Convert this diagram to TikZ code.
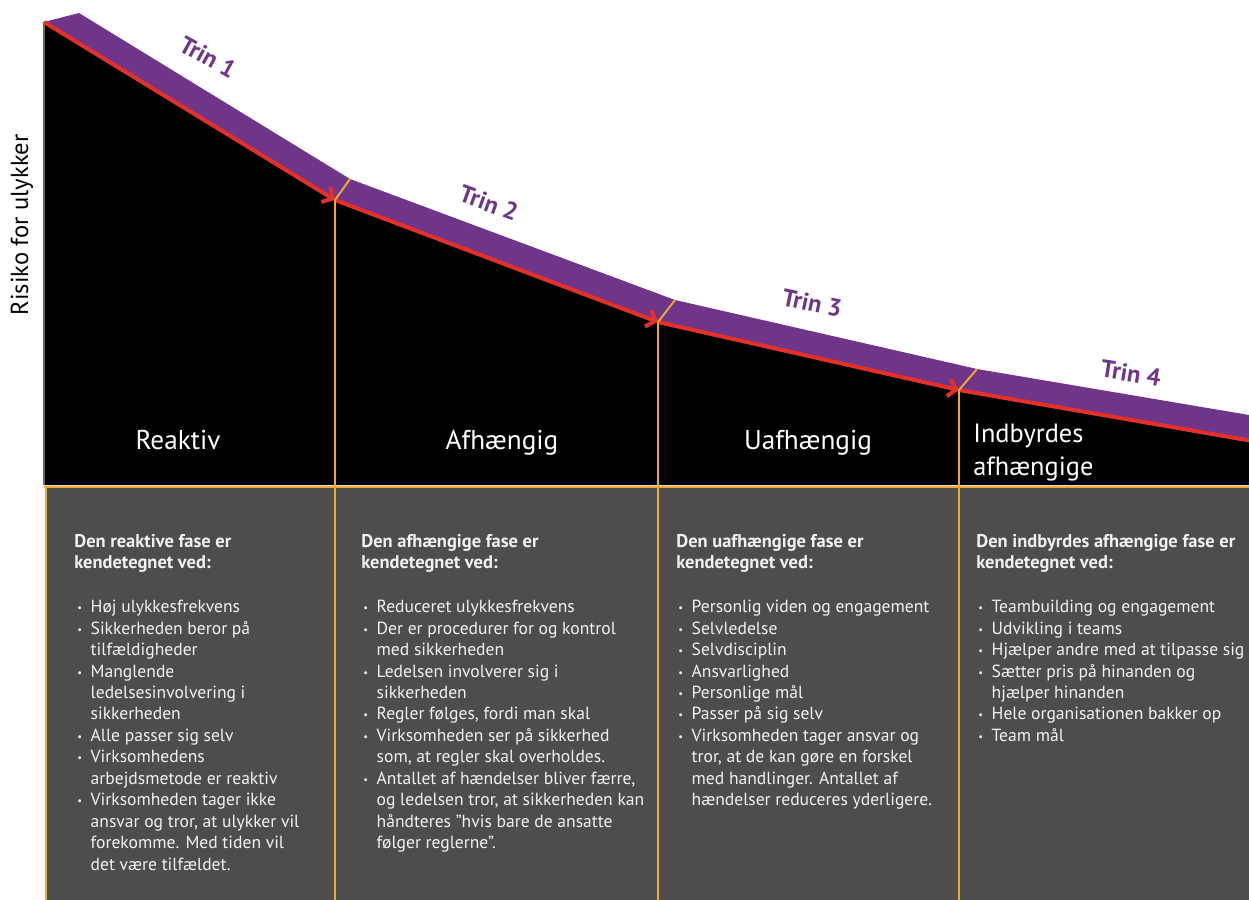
\documentclass[tikz,border=0pt]{standalone}
\usepackage{fontspec}
\setmainfont{PT Sans}
\usetikzlibrary{arrows.meta}

\definecolor{trinpurple}{HTML}{6E3589}
\definecolor{arrowred}{HTML}{E3302B}
\definecolor{edgeorange}{HTML}{EFA92E}
\definecolor{boxgrey}{HTML}{4D4D4D}
\definecolor{boxtext}{HTML}{F2F2F2}

\tikzset{
  phase/.style={text=white, inner sep=0pt, font=\fontsize{15.5}{19}\selectfont},
  trin/.style={text=trinpurple, inner sep=0pt, font=\bfseries\fontsize{14}{16}\selectfont},
  head/.style={anchor=north west, inner sep=0pt, align=left, text=boxtext, font=\bfseries\fontsize{10.5}{12}\selectfont},
  punkter/.style={anchor=north west, inner sep=0pt, align=left, text=boxtext, font=\fontsize{10}{12.2}\selectfont},
  divider/.style={edgeorange, line width=1.1pt},
  redline/.style={arrowred, line width=2.3pt, ->},
}
\newcommand{\pkt}{\makebox[7.6pt][l]{\raisebox{0.6pt}{\fontsize{6}{6}\selectfont\textbullet}}}
\newcommand{\ind}{\hspace*{7.6pt}}

\begin{document}
\begin{tikzpicture}[x=0.02cm, y=-0.02cm, >={Straight Barb[length=4.5pt,width=10pt]}]
    \useasboundingbox (0,0) rectangle (1249,900);
    % points on the red line and on the upper edge of the band
    \coordinate (p0) at (44,22);
    \coordinate (p1) at (335,200);
    \coordinate (p2) at (658,322);
    \coordinate (p3) at (959,390);
    \coordinate (p4) at (1249,440);
    \coordinate (pend) at (1264,443);
    \coordinate (q0) at (79,13);
    \coordinate (q1) at (350,179);
    \coordinate (q2) at (675,300);
    \coordinate (q3) at (977,369);
    \coordinate (q4) at (1249,415);

    \fill[black] (p0) -- (p1) -- (p2) -- (p3) -- (p4) -- (1249,485) -- (44,485) -- cycle;
    \draw[black!60, line width=0.6pt] (p0) -- (44,485);
    \fill[boxgrey] (45,487) rectangle (1249,900);
    \fill[trinpurple] (p0) -- (q0) -- (q1) -- (q2) -- (q3) -- (q4) -- (p4) -- (p3) -- (p2) -- (p1) -- cycle;

    \draw[redline] (p0) -- (p1);
    \draw[redline] (p1) -- (p2);
    \draw[redline] (p2) -- (p3);
    \draw[redline] (p3) -- (pend);

    \draw[divider] (q1) -- (p1) -- (335,900);
    \draw[divider] (q2) -- (p2) -- (658,900);
    \draw[divider] (q3) -- (p3) -- (959,900);
    \draw[divider] (44,487) -- (1249,487);
    \draw[divider] (46,487) -- (46,900);

    \node[trin, rotate=-29] (trin1) at (208,57) {Trin 1};
    \node[trin, rotate=-20] (trin2) at (489,203) {Trin 2};
    \node[trin, rotate=-12] (trin3) at (812,303) {Trin 3};
    \node[trin, rotate=-9] (trin4) at (1131,373) {Trin 4};

    \node[rotate=90, font=\fontsize{14}{16}\selectfont] (risiko) at (22,225) {Risiko for ulykker};

    \node[phase, anchor=base] (reaktiv) at (178,449) {Reaktiv};
    \node[phase, anchor=base] (afh) at (502,449) {Afhængig};
    \node[phase, anchor=base] (uafh) at (808,449) {Uafhængig};
    \node[phase, anchor=north west, align=left, font=\fontsize{15}{18.5}\selectfont] (indb) at (973,424) {Indbyrdes\\afhængige};

    % reaktiv
    \node[head] (head1) at (74,534) {Den reaktive fase er\\kendetegnet ved:};
    \node[punkter] (list1) at (77,600) {\pkt Høj ulykkesfrekvens\\
        \pkt Sikkerheden beror på\\ \ind tilfældigheder\\
        \pkt Manglende\\ \ind ledelsesinvolvering i\\ \ind sikkerheden\\
        \pkt Alle passer sig selv\\
        \pkt Virksomhedens\\ \ind arbejdsmetode er reaktiv\\
        \pkt Virksomheden tager ikke\\ \ind ansvar og tror, at ulykker vil\\ \ind forekomme. Med tiden vil\\ \ind det være tilfældet.};
    % afhaengig
    \node[head] (head2) at (361,534) {Den afhængige fase er\\kendetegnet ved:};
    \node[punkter] (list2) at (363,600) {\pkt Reduceret ulykkesfrekvens\\
        \pkt Der er procedurer for og kontrol\\ \ind med sikkerheden\\
        \pkt Ledelsen involverer sig i\\ \ind sikkerheden\\
        \pkt Regler følges, fordi man skal\\
        \pkt Virksomheden ser på sikkerhed\\ \ind som, at regler skal overholdes.\\
        \pkt Antallet af hændelser bliver færre,\\ \ind og ledelsen tror, at sikkerheden kan\\ \ind håndteres ”hvis bare de ansatte\\ \ind følger reglerne”.};
    % uafhaengig
    \node[head] (head3) at (676,534) {Den uafhængige fase er\\kendetegnet ved:};
    \node[punkter] (list3) at (678,600) {\pkt Personlig viden og engagement\\
        \pkt Selvledelse\\
        \pkt Selvdisciplin\\
        \pkt Ansvarlighed\\
        \pkt Personlige mål\\
        \pkt Passer på sig selv\\
        \pkt Virksomheden tager ansvar og\\ \ind tror, at de kan gøre en forskel\\ \ind med handlinger. Antallet af\\ \ind hændelser reduceres yderligere.};
    % indbyrdes afhaengig
    \node[head] (head4) at (976,534) {Den indbyrdes afhængige fase er\\kendetegnet ved:};
    \node[punkter] (list4) at (978,600) {\pkt Teambuilding og engagement\\
        \pkt Udvikling i teams\\
        \pkt Hjælper andre med at tilpasse sig\\
        \pkt Sætter pris på hinanden og\\ \ind hjælper hinanden\\
        \pkt Hele organisationen bakker op\\
        \pkt Team mål};
\end{tikzpicture}
\end{document}
